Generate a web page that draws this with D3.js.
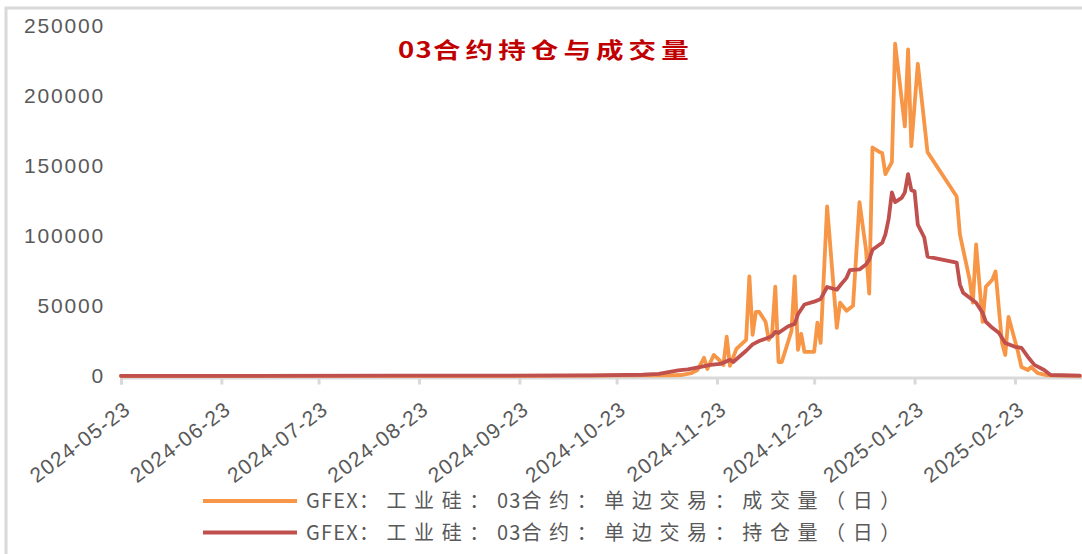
<!DOCTYPE html>
<html>
<head>
<meta charset="utf-8">
<script src="https://cdn.jsdelivr.net/npm/d3@7"></script>
<style>
  body { margin: 0; background: #fff; }
  svg { display: block; }
</style>
</head>
<body>
<svg id="chart_svg" width="1082" height="554"></svg>
<script>
// 成交量 (volume)
var volumeDates = ["2024-05-23","2024-07-01","2024-08-15","2024-09-20","2024-10-15","2024-11-01","2024-11-08",
  "2024-11-12","2024-11-15","2024-11-17","2024-11-19","2024-11-20","2024-11-22","2024-11-24","2024-11-25",
  "2024-11-26","2024-11-27","2024-11-29","2024-12-01","2024-12-02","2024-12-03","2024-12-04","2024-12-05",
  "2024-12-06","2024-12-08","2024-12-09","2024-12-10","2024-12-11","2024-12-12","2024-12-13","2024-12-16",
  "2024-12-17","2024-12-18","2024-12-19","2024-12-20","2024-12-23","2024-12-24","2024-12-25","2024-12-27",
  "2024-12-30","2024-12-31","2025-01-02","2025-01-04","2025-01-06","2025-01-08","2025-01-09","2025-01-10",
  "2025-01-12","2025-01-13","2025-01-14","2025-01-16","2025-01-17","2025-01-20","2025-01-21","2025-01-22",
  "2025-01-24","2025-01-27","2025-02-05","2025-02-06","2025-02-07","2025-02-09","2025-02-10","2025-02-11",
  "2025-02-13","2025-02-14","2025-02-16","2025-02-17","2025-02-19","2025-02-20","2025-02-21","2025-02-24",
  "2025-02-25","2025-02-27","2025-02-28","2025-03-02","2025-03-05","2025-03-15"];
var volume = [0, 30, 60, 100, 200, 400, 500,
  700, 2000, 4300, 13000, 5000, 15000, 10700, 7900,
  28000, 7200, 19300, 23600, 25800, 71000, 29400, 45800,
  45800, 38700, 25800, 30100, 63700, 10000, 10000, 32200,
  71000, 18600, 30100, 17200, 17200, 38000, 23600, 121000,
  34400, 52300, 46500, 50100, 124000, 90200, 58700, 163000,
  160000, 159000, 144000, 152500, 237000, 178000, 233000, 164000,
  222700, 159700, 128000, 101000, 90200, 68700, 52300, 93800,
  38700, 63700, 68700, 74500, 23600, 15000, 42200, 16500,
  6400, 4300, 6400, 2100, 400, 100];

// 持仓量 (open interest)
var oiDates = ["2024-05-23","2024-07-01","2024-08-15","2024-09-20","2024-10-15","2024-10-31","2024-11-05",
  "2024-11-08","2024-11-11","2024-11-14","2024-11-18","2024-11-21","2024-11-24","2024-11-27","2024-11-28",
  "2024-12-02","2024-12-04","2024-12-06","2024-12-09","2024-12-10","2024-12-11","2024-12-12","2024-12-15",
  "2024-12-17","2024-12-18","2024-12-20","2024-12-23","2024-12-25","2024-12-27","2024-12-30","2024-12-31",
  "2025-01-02","2025-01-03","2025-01-06","2025-01-08","2025-01-09","2025-01-10","2025-01-13","2025-01-14",
  "2025-01-15","2025-01-16","2025-01-17","2025-01-19","2025-01-20","2025-01-21","2025-01-22","2025-01-23",
  "2025-01-24","2025-01-26","2025-01-27","2025-02-05","2025-02-06","2025-02-07","2025-02-11","2025-02-13",
  "2025-02-14","2025-02-16","2025-02-18","2025-02-20","2025-02-23","2025-02-25","2025-02-27","2025-03-01",
  "2025-03-04","2025-03-06","2025-03-15"];
var openInterest = [100, 150, 200, 300, 450, 900, 1500,
  2800, 4000, 4800, 6500, 8000, 8600, 11500, 10000,
  18000, 22600, 25000, 27500, 28500, 31500, 30800, 35500,
  37200, 44000, 51000, 53000, 55000, 63500, 61500, 64500,
  70000, 75500, 76000, 79500, 83000, 90000, 95000, 101000,
  112000, 131000, 124000, 127000, 131000, 144000, 132500, 131700,
  108000, 98800, 85200, 80900, 65200, 59400, 52300, 45100,
  38700, 34400, 30800, 23600, 20800, 20000, 13600, 7900,
  4300, 700, 200];

var yTicks = [0, 50000, 100000, 150000, 200000, 250000];
var xTickLabels = ["2024-05-23","2024-06-23","2024-07-23","2024-08-23","2024-09-23",
                   "2024-10-23","2024-11-23","2024-12-23","2025-01-23","2025-02-23"];
var xDomain = ["2024-05-23", "2025-03-16"];
var seriesNames = ["GFEX：工业硅：03合约：单边交易：成交量（日）",
                   "GFEX：工业硅：03合约：单边交易：持仓量（日）"];
var chartTitle = "03合约持仓与成交量";

(function () {
  var svg = d3.select("svg#chart_svg"),
      parse = d3.utcParse("%Y-%m-%d"),
      axisFont = "'Liberation Sans', Arial, sans-serif",
      cjkFont = "'Noto Sans CJK SC', sans-serif",
      grey = "#595959",
      colors = ["#f79646", "#c0504d"];

  // latin and CJK runs get different spacing
  function addRuns(text, str, latinSpace, cjkSpace) {
    (str.match(/[\x00-\x7f]+|[^\x00-\x7f]+/g) || []).forEach(function (r) {
      text.append("tspan")
          .style("letter-spacing", (/^[\x00-\x7f]/.test(r) ? latinSpace : cjkSpace) + "px")
          .text(r);
    });
  }

  // outer frame (only left and top edges show)
  svg.append("rect").attr("x", 6).attr("y", 8)
     .attr("width", 1200).attr("height", 700)
     .attr("fill", "none").attr("stroke", "#d9d9d9").attr("stroke-width", 3);

  var x = d3.scaleUtc().domain(xDomain.map(parse)).range([121, 1083]);
  var y = d3.scaleLinear().domain([0, 250000]).range([376, 25.5]);

  // y axis, labels only
  var gy = svg.append("g").attr("transform", "translate(121,0)")
      .call(d3.axisLeft(y).tickValues(yTicks).tickSize(0).tickPadding(16)
            .tickFormat(d3.format("d")));
  gy.select(".domain").remove();
  gy.selectAll("text")
    .style("font-family", axisFont).style("font-size", "21px")
    .style("letter-spacing", "1.8px").attr("fill", grey);

  // x axis
  var gx = svg.append("g").attr("transform", "translate(0,377.5)")
      .call(d3.axisBottom(x).tickValues(xTickLabels.map(parse))
            .tickSizeOuter(0).tickSize(7)
            .tickFormat(d3.utcFormat("%Y-%m-%d")));
  gx.select(".domain").attr("stroke", "#d9d9d9").attr("stroke-width", 3);
  gx.selectAll(".tick line").attr("stroke", "#d9d9d9").attr("stroke-width", 3);
  gx.selectAll("text")
    .attr("x", 0).attr("y", 0).attr("dy", 0)
    .attr("transform", "translate(10.5,34.5) rotate(-37)")
    .style("text-anchor", "end")
    .style("font-family", axisFont).style("font-size", "21px")
    .style("letter-spacing", "1.2px").attr("fill", grey);

  // series lines, volume under open interest
  var line = d3.line().x(d => x(d[0])).y(d => y(d[1]));
  var series = [
    d3.zip(volumeDates.map(parse), volume),
    d3.zip(oiDates.map(parse), openInterest)
  ];
  series.forEach(function (s, i) {
    svg.append("path").datum(s)
       .attr("d", line)
       .attr("fill", "none")
       .attr("stroke", colors[i])
       .attr("stroke-width", 3.8)
       .attr("stroke-linejoin", "round")
       .attr("stroke-linecap", "round");
  });

  // title, drawn a bit wide like the original
  var title = svg.append("text")
     .attr("transform", "translate(398,58) scale(1.25,1)")
     .style("font-family", cjkFont).style("font-size", "22px")
     .style("font-weight", "bold").attr("fill", "#c00000");
  addRuns(title, chartTitle, 1, 4.1);

  // legend
  var gleg = svg.append("g");
  seriesNames.forEach(function (name, i) {
    var ly = 501 + i * 31.5;
    gleg.append("line").attr("x1", 203).attr("x2", 297)
        .attr("y1", ly).attr("y2", ly)
        .attr("stroke", colors[i]).attr("stroke-width", 4);
    var t = gleg.append("text").attr("x", 306).attr("y", ly + 7)
        .style("font-family", cjkFont).style("font-size", "20px")
        .attr("fill", grey);
    addRuns(t, name, 1.2, 7.6);
  });
})();
</script>
</body>
</html>
